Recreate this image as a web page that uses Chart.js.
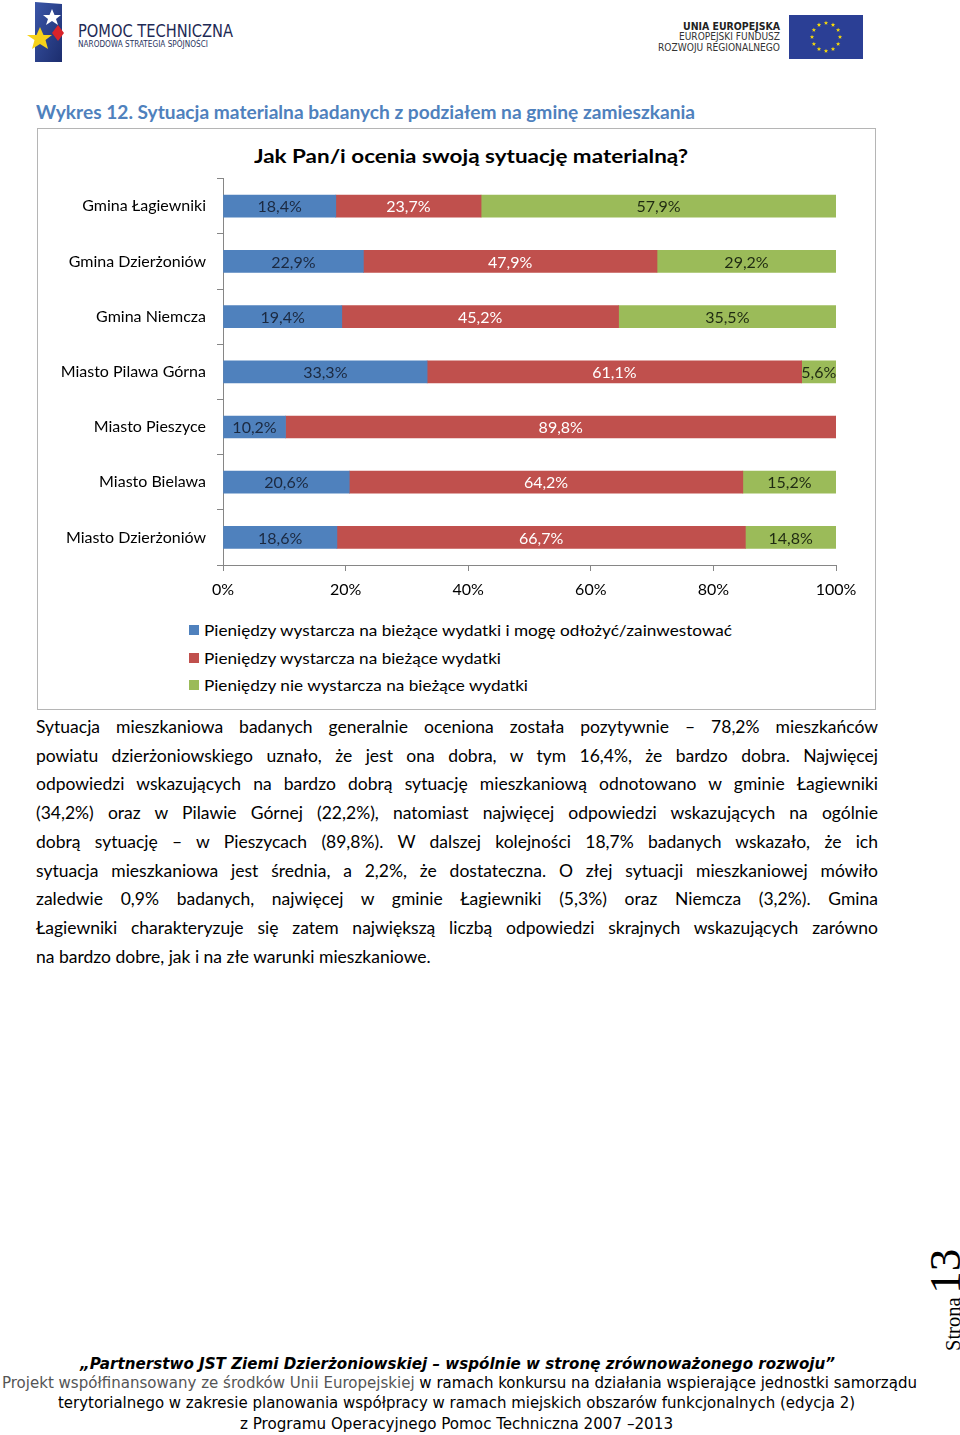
<!DOCTYPE html>
<html><head><meta charset="utf-8">
<script src="https://cdn.jsdelivr.net/npm/chart.js@4.4.1/dist/chart.umd.min.js"></script>
<style>
body{margin:0;width:960px;height:1435px;position:relative;background:#fff;font-family:Lato,'Open Sans',sans-serif;overflow:hidden;color:#000}
.abs{position:absolute;white-space:nowrap}
.fit{display:inline-block;transform-origin:left center}
.pline{position:absolute;left:36px;width:842px;white-space:nowrap;text-align:justify;text-align-last:justify;font-size:17.5px;line-height:28px;height:28px}
.legrow{position:absolute;left:189px;height:20px;line-height:20px;font-size:16px;white-space:nowrap}
.legsq{position:absolute;left:0;top:5px;width:10px;height:10px}
.legtx{position:absolute;left:15px;top:0}
</style></head><body>

<!-- header left logo -->
<svg class="abs" style="left:0;top:0" width="260" height="70">
  <defs><linearGradient id="lg" x1="0" y1="0" x2="1" y2="1"><stop offset="0" stop-color="#3a56a8"/><stop offset="1" stop-color="#1c2d6e"/></linearGradient></defs>
  <polygon points="35,2 62,4 62,62 35,62" fill="url(#lg)"/>
  <polygon points="52,9 54.5,15 61,15 56,19 58,25 52,21 46,25 48,19 43,15 49.5,15" fill="#ffffff"/>
  <polygon points="58,25 64,33 58,41 52,33" fill="#d8232a"/>
  <polygon points="40,27 43.5,35 52,35 45.5,40 48,49 40,44 32,49 34.5,40 27,35 36.5,35" fill="#f6d21a"/>
</svg>
<div class="abs" style="left:78px;top:20px;line-height:22px;font-size:18px;color:#1e2a55;font-family:'DejaVu Sans Condensed','DejaVu Sans',sans-serif"><span class="fit" data-w="155">POMOC TECHNICZNA</span></div>
<div class="abs" style="left:78px;top:39px;line-height:10px;font-size:8.5px;color:#2a3560;font-family:'DejaVu Sans Condensed','DejaVu Sans',sans-serif"><span class="fit" data-w="130">NARODOWA STRATEGIA SPÓJNOŚCI</span></div>

<!-- header right -->
<div class="abs" style="left:683px;top:21px;line-height:12px;font-size:10px;font-weight:bold;color:#222;font-family:'DejaVu Sans Condensed','DejaVu Sans',sans-serif"><span class="fit" data-w="97">UNIA EUROPEJSKA</span></div>
<div class="abs" style="left:679px;top:31px;line-height:12px;font-size:10px;color:#333;font-family:'DejaVu Sans Condensed','DejaVu Sans',sans-serif"><span class="fit" data-w="101">EUROPEJSKI FUNDUSZ</span></div>
<div class="abs" style="left:658px;top:42px;line-height:12px;font-size:10px;color:#333;font-family:'DejaVu Sans Condensed','DejaVu Sans',sans-serif"><span class="fit" data-w="122">ROZWOJU REGIONALNEGO</span></div>
<svg class="abs" id="euflag" style="left:789px;top:15px" width="75" height="44">
  <rect x="0" y="0" width="74" height="44" fill="#2b3f95"/>
</svg>

<!-- caption -->
<div class="abs" style="left:36px;top:100px;line-height:24px;font-size:19px;font-weight:bold;color:#4F81BD"><span class="fit" data-w="659">Wykres 12. Sytuacja materialna badanych z podziałem na gminę zamieszkania</span></div>

<!-- chart box -->
<div class="abs" style="left:37px;top:128px;width:839px;height:582px;border:1.5px solid #b5b5b5;box-sizing:border-box"></div>
<div class="abs" style="left:254px;top:144px;line-height:24px;font-size:19px;font-weight:bold"><span class="fit" data-w="434">Jak Pan/i ocenia swoją sytuację materialną?</span></div>
<div class="abs" style="left:38px;top:158px;width:838px;height:452px"><canvas id="c" width="838" height="452" style="width:838px;height:452px"></canvas></div>
<div id="legend"></div>

<!-- paragraph -->
<div id="para"></div>

<!-- footer -->
<div class="abs" style="left:80px;top:1353px;line-height:22px;font-size:16px;font-weight:bold;font-style:italic;font-family:'DejaVu Sans',sans-serif"><span class="fit" data-w="755">„Partnerstwo JST Ziemi Dzierżoniowskiej – wspólnie w stronę zrównoważonego rozwoju”</span></div>
<div class="abs" style="left:2px;top:1373px;line-height:20px;font-size:15px;font-family:'DejaVu Sans Condensed','DejaVu Sans',sans-serif"><span class="fit" data-w="915"><span style="color:#555">Projekt współfinansowany ze środków Unii Europejskiej</span> w ramach konkursu na działania wspierające jednostki samorządu</span></div>
<div class="abs" style="left:58px;top:1393px;line-height:20px;font-size:15px;font-family:'DejaVu Sans Condensed','DejaVu Sans',sans-serif"><span class="fit" data-w="797">terytorialnego w zakresie planowania współpracy w ramach miejskich obszarów funkcjonalnych (edycja 2)</span></div>
<div class="abs" style="left:240px;top:1414px;line-height:20px;font-size:15px;font-family:'DejaVu Sans Condensed','DejaVu Sans',sans-serif"><span class="fit" data-w="433">z Programu Operacyjnego Pomoc Techniczna 2007 –2013</span></div>

<!-- page number -->
<div class="abs" style="left:890px;top:1274px;width:110px;height:44px;transform:rotate(-90deg);transform-origin:center center;font-family:'Liberation Serif','DejaVu Serif',serif;line-height:44px;text-align:left">
  <span style="font-size:20.5px;vertical-align:baseline">Strona</span><span style="font-size:45px;vertical-align:baseline">&#8202;13</span>
</div>

<script>
const categories = ['Gmina Łagiewniki','Gmina Dzierżoniów','Gmina Niemcza','Miasto Pilawa Górna','Miasto Pieszyce','Miasto Bielawa','Miasto Dzierżoniów'];
const seriesLabels = ['Pieniędzy wystarcza na bieżące wydatki i mogę odłożyć/zainwestować','Pieniędzy wystarcza na bieżące wydatki','Pieniędzy nie wystarcza na bieżące wydatki'];
const saveInvest    = [18.4, 22.9, 19.4, 33.3, 10.2, 20.6, 18.6];
const enoughCurrent = [23.7, 47.9, 45.2, 61.1, 89.8, 64.2, 66.7];
const notEnough     = [57.9, 29.2, 35.5,  5.6,  0.0, 15.2, 14.8];
const xTickValues = [0, 20, 40, 60, 80, 100];
const seriesColors = ['#4F81BD','#C0504D','#9BBB59'];
const labelColors = ['#1b2940','#ffffff','#1f2a12'];

const paraLines = [
 'Sytuacja mieszkaniowa badanych generalnie oceniona została pozytywnie – 78,2% mieszkańców',
 'powiatu dzierżoniowskiego uznało, że jest ona dobra, w tym 16,4%, że bardzo dobra. Najwięcej',
 'odpowiedzi wskazujących na bardzo dobrą sytuację mieszkaniową odnotowano w gminie Łagiewniki',
 '(34,2%) oraz w Pilawie Górnej (22,2%), natomiast najwięcej odpowiedzi wskazujących na ogólnie',
 'dobrą sytuację – w Pieszycach (89,8%). W dalszej kolejności 18,7% badanych wskazało, że ich',
 'sytuacja mieszkaniowa jest średnia, a 2,2%, że dostateczna. O złej sytuacji mieszkaniowej mówiło',
 'zaledwie 0,9% badanych, najwięcej w gminie Łagiewniki (5,3%) oraz Niemcza (3,2%). Gmina',
 'Łagiewniki charakteryzuje się zatem największą liczbą odpowiedzi skrajnych wskazujących zarówno',
 'na bardzo dobre, jak i na złe warunki mieszkaniowe.'
];

// EU flag stars
(function(){
  const svg = document.getElementById('euflag');
  const cx=37, cy=22, r=14;
  for(let k=0;k<12;k++){
    const a = k*Math.PI/6;
    const x = cx + r*Math.sin(a), y = cy - r*Math.cos(a);
    let pts=[];
    for(let j=0;j<10;j++){
      const rr = j%2? 1.0 : 2.3; const b = j*Math.PI/5;
      pts.push((x+rr*Math.sin(b)).toFixed(2)+','+(y-rr*Math.cos(b)).toFixed(2));
    }
    const p = document.createElementNS('http://www.w3.org/2000/svg','polygon');
    p.setAttribute('points',pts.join(' ')); p.setAttribute('fill','#f5d90a');
    svg.appendChild(p);
  }
})();

// legend
(function(){
  const lg = document.getElementById('legend');
  const tops = [620, 648, 675];
  const widths = [528, 297, 324];
  seriesLabels.forEach((t,i)=>{
    const row = document.createElement('div');
    row.className='legrow'; row.style.top=tops[i]+'px';
    row.innerHTML = '<div class="legsq" style="background:'+seriesColors[i]+'"></div><div class="legtx"><span class="fit" data-w="'+widths[i]+'">'+t+'</span></div>';
    lg.appendChild(row);
  });
})();

// paragraph
(function(){
  const pd = document.getElementById('para');
  paraLines.forEach((t,i)=>{
    const d = document.createElement('div');
    d.className='pline'; d.style.top=(713 + i*28.7)+'px';
    if(i===paraLines.length-1){ d.style.textAlignLast='left'; }
    d.textContent=t; pd.appendChild(d);
    const m = document.createElement('span');
    m.style.cssText='position:absolute;visibility:hidden;white-space:nowrap;font-size:17.5px';
    m.textContent=t; document.body.appendChild(m);
    const w = m.getBoundingClientRect().width; m.remove();
    if(w>836){ d.style.letterSpacing=((836-w)/t.length).toFixed(3)+'px'; }
  });
})();

// fit widths
document.querySelectorAll('.fit').forEach(el=>{
  const w = el.getBoundingClientRect().width;
  const tw = parseFloat(el.dataset.w);
  if(w>0) el.style.transform='scaleX('+(tw/w).toFixed(4)+')';
});

// chart
const totals = categories.map((_,i)=>saveInvest[i]+enoughCurrent[i]+notEnough[i]);
const share = arr => arr.map((v,i)=> v/totals[i]*100);
const rawSeries = [saveInvest, enoughCurrent, notEnough];

const segLabels = {
  id:'segLabels',
  afterDatasetsDraw(chart){
    const c = chart.ctx;
    chart.data.datasets.forEach((ds,di)=>{
      const meta = chart.getDatasetMeta(di);
      meta.data.forEach((el,i)=>{
        const v = rawSeries[di][i];
        if(!v) return;
        const p = el.getCenterPoint();
        c.save();
        c.fillStyle = labelColors[di];
        c.font = '16px Lato';
        c.textAlign='center'; c.textBaseline='middle';
        c.fillText(v.toFixed(1).replace('.',',')+'%', p.x, p.y+1);
        c.restore();
      });
    });
  }
};

new Chart(document.getElementById('c'), {
  type:'bar',
  data:{
    labels: categories,
    datasets: rawSeries.map((arr,di)=>({
      label: seriesLabels[di],
      data: share(arr),
      backgroundColor: seriesColors[di],
      borderWidth:0,
      barThickness:22
    }))
  },
  options:{
    indexAxis:'y',
    responsive:false,
    animation:false,
    layout:{padding:{top:0,right:40,left:0,bottom:0}},
    plugins:{legend:{display:false},title:{display:false},tooltip:{enabled:false}},
    scales:{
      x:{
        stacked:true, min:0, max:100,
        afterBuildTicks: s => { s.ticks = xTickValues.map(v=>({value:v})); },
        ticks:{callback:v=>v+'%', color:'#000', font:{family:'Lato',size:16}, padding:9, maxRotation:0},
        grid:{drawOnChartArea:false, drawTicks:true, tickLength:6, color:'#868686'},
        border:{display:true, color:'#868686', width:1},
        afterFit: s => { s.height = 45; }
      },
      y:{
        stacked:true,
        ticks:{color:'#000', font:{family:'Lato',size:16}, padding:11},
        grid:{drawOnChartArea:false, drawTicks:true, tickLength:6, color:'#868686', offset:true},
        border:{display:true, color:'#868686', width:1},
        afterFit: s => { s.width = 185; }
      }
    }
  },
  plugins:[segLabels]
});
</script>
</body></html>
